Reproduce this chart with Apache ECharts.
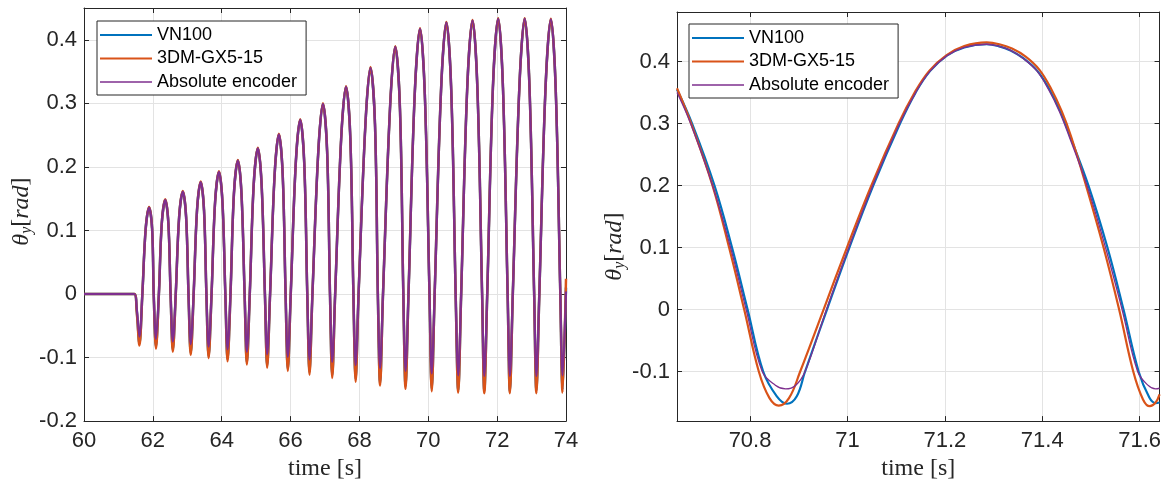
<!DOCTYPE html>
<html><head><meta charset="utf-8">
<script src="https://cdn.jsdelivr.net/npm/echarts@6/dist/echarts.min.js"></script>
<style>html,body{margin:0;padding:0;background:#fff}#c{width:1164px;height:486px}</style>
</head><body><div id="c"></div>
<script>
// ---------- DATA ----------
const seriesNames = ['VN100', '3DM-GX5-15', 'Absolute encoder'];
const leftXTicks = [60, 62, 64, 66, 68, 70, 72, 74];
const leftYTicks = [-0.2, -0.1, 0, 0.1, 0.2, 0.3, 0.4];
const rightXTicks = [70.8, 71, 71.2, 71.4, 71.6];
const rightYTicks = [-0.1, 0, 0.1, 0.2, 0.3, 0.4];

// left panel: time [s]
const leftTime = [
  60, 61.46, 61.53,
  61.61, 61.695, 61.791, 61.89, 61.979, 62.025,
  62.09, 62.175, 62.259, 62.36, 62.451, 62.515,
  62.58, 62.665, 62.763, 62.87, 62.966, 63.035,
  63.10, 63.185, 63.283, 63.39, 63.486, 63.555,
  63.62, 63.705, 63.807, 63.92, 64.022, 64.105,
  64.17, 64.255, 64.355, 64.47, 64.574, 64.665,
  64.73, 64.815, 64.929, 65.05, 65.159, 65.255,
  65.32, 65.405, 65.537, 65.66, 65.771, 65.855,
  65.92, 66.005, 66.151, 66.28, 66.397, 66.485,
  66.55, 66.635, 66.805, 66.94, 67.062, 67.145,
  67.21, 67.295, 67.470, 67.61, 67.736, 67.825,
  67.89, 67.975, 68.174, 68.32, 68.452, 68.535,
  68.60, 68.685, 68.888, 69.04, 69.177, 69.275,
  69.34, 69.425, 69.605, 69.76, 69.900, 70.035,
  70.10, 70.185, 70.370, 70.525, 70.667, 70.795,
  70.87, 70.955, 71.130, 71.285, 71.427, 71.563,
  71.627, 71.712, 71.877, 72.03, 72.169, 72.305,
  72.37, 72.455, 72.645, 72.80, 72.940, 73.075,
  73.14, 73.225, 73.405, 73.56, 73.700, 73.835,
  73.90, 74.0
];
const leftVN100 = [
  0, 0, -0.025,
  -0.078, 0, 0.102, 0.136, 0.102, 0,
  -0.083, 0, 0.111, 0.148, 0.111, 0,
  -0.088, 0, 0.121, 0.161, 0.121, 0,
  -0.093, 0, 0.132, 0.176, 0.132, 0,
  -0.098, 0, 0.144, 0.192, 0.144, 0,
  -0.103, 0, 0.158, 0.210, 0.158, 0,
  -0.108, 0, 0.172, 0.229, 0.172, 0,
  -0.113, 0, 0.188, 0.251, 0.188, 0,
  -0.118, 0, 0.206, 0.274, 0.206, 0,
  -0.123, 0, 0.224, 0.299, 0.224, 0,
  -0.128, 0, 0.245, 0.326, 0.245, 0,
  -0.134, 0, 0.267, 0.356, 0.267, 0,
  -0.140, 0, 0.292, 0.389, 0.292, 0,
  -0.145, 0, 0.313, 0.417, 0.313, 0,
  -0.149, 0, 0.320, 0.427, 0.320, 0,
  -0.152, 0, 0.323, 0.430, 0.323, 0,
  -0.152, 0, 0.325, 0.433, 0.325, 0,
  -0.153, 0, 0.325, 0.433, 0.325, 0,
  -0.152, 0, 0.324, 0.432, 0.324, 0,
  -0.151, 0.010
];
const leftGX5 = [
  0, 0, -0.027,
  -0.081, 0, 0.102, 0.137, 0.102, 0,
  -0.086, 0, 0.111, 0.149, 0.111, 0,
  -0.091, 0, 0.121, 0.162, 0.121, 0,
  -0.096, 0, 0.132, 0.177, 0.132, 0,
  -0.101, 0, 0.144, 0.193, 0.144, 0,
  -0.106, 0, 0.158, 0.211, 0.158, 0,
  -0.111, 0, 0.172, 0.230, 0.172, 0,
  -0.116, 0, 0.188, 0.252, 0.188, 0,
  -0.121, 0, 0.206, 0.275, 0.206, 0,
  -0.127, 0, 0.224, 0.300, 0.224, 0,
  -0.132, 0, 0.245, 0.327, 0.245, 0,
  -0.138, 0, 0.267, 0.357, 0.267, 0,
  -0.144, 0, 0.292, 0.390, 0.292, 0,
  -0.149, 0, 0.313, 0.418, 0.313, 0,
  -0.153, 0, 0.320, 0.428, 0.320, 0,
  -0.155, 0, 0.323, 0.431, 0.323, 0,
  -0.156, 0, 0.325, 0.434, 0.325, 0,
  -0.156, 0, 0.325, 0.434, 0.325, 0,
  -0.156, 0, 0.324, 0.433, 0.324, 0,
  -0.155, 0.024
];
const leftEncoder = [
  0, 0, -0.022,
  -0.067, 0, 0.102, 0.136, 0.102, 0,
  -0.071, 0, 0.111, 0.148, 0.111, 0,
  -0.075, 0, 0.121, 0.161, 0.121, 0,
  -0.079, 0, 0.132, 0.176, 0.132, 0,
  -0.083, 0, 0.144, 0.192, 0.144, 0,
  -0.087, 0, 0.158, 0.210, 0.158, 0,
  -0.091, 0, 0.172, 0.229, 0.172, 0,
  -0.095, 0, 0.188, 0.251, 0.188, 0,
  -0.099, 0, 0.206, 0.274, 0.206, 0,
  -0.103, 0, 0.224, 0.299, 0.224, 0,
  -0.107, 0, 0.245, 0.326, 0.245, 0,
  -0.112, 0, 0.267, 0.356, 0.267, 0,
  -0.117, 0, 0.292, 0.389, 0.292, 0,
  -0.121, 0, 0.313, 0.417, 0.313, 0,
  -0.125, 0, 0.320, 0.427, 0.320, 0,
  -0.128, 0, 0.323, 0.430, 0.323, 0,
  -0.129, 0, 0.325, 0.433, 0.325, 0,
  -0.129, 0, 0.325, 0.433, 0.325, 0,
  -0.129, 0, 0.324, 0.432, 0.324, 0,
  -0.128, 0.004
];

// right panel (zoom on one cycle)
const rightTimeVN100 = [70.65, 70.681, 70.727, 70.763, 70.795, 70.827, 70.855, 70.876, 70.896, 70.913, 70.958, 71.004, 71.053, 71.108, 71.140, 71.170, 71.205, 71.240, 71.286, 71.310, 71.335, 71.362, 71.390, 71.415, 71.437, 71.457, 71.495, 71.534, 71.567, 71.598, 71.620, 71.633, 71.641];
const rightVN100     = [0.355, 0.3, 0.2, 0.1, 0, -0.1, -0.140, -0.152, -0.140, -0.1, 0, 0.1, 0.2, 0.3, 0.35, 0.385, 0.41, 0.423, 0.428, 0.425, 0.418, 0.405, 0.385, 0.355, 0.32, 0.28, 0.2, 0.1, 0, -0.1, -0.142, -0.151, -0.150];
const rightTimeGX5 = [70.65, 70.679, 70.723, 70.757, 70.788, 70.818, 70.840, 70.859, 70.880, 70.903, 70.951, 70.999, 71.049, 71.105, 71.138, 71.168, 71.203, 71.240, 71.286, 71.312, 71.338, 71.366, 71.394, 71.419, 71.440, 71.459, 71.490, 71.526, 71.558, 71.587, 71.607, 71.621, 71.633, 71.641];
const rightGX5     = [0.357, 0.3, 0.2, 0.1, 0, -0.1, -0.143, -0.155, -0.143, -0.1, 0, 0.1, 0.2, 0.3, 0.35, 0.385, 0.41, 0.425, 0.431, 0.428, 0.421, 0.408, 0.387, 0.355, 0.32, 0.28, 0.2, 0.1, 0, -0.1, -0.145, -0.156, -0.150, -0.137];
const rightTimeEncoder = [70.65, 70.678, 70.723, 70.760, 70.792, 70.825, 70.852, 70.873, 70.894, 70.913, 70.957, 71.003, 71.052, 71.107, 71.140, 71.170, 71.205, 71.240, 71.286, 71.310, 71.335, 71.361, 71.389, 71.413, 71.435, 71.455, 71.492, 71.530, 71.564, 71.596, 71.617, 71.633, 71.641];
const rightEncoder     = [0.350, 0.3, 0.2, 0.1, 0, -0.1, -0.122, -0.128, -0.122, -0.1, 0, 0.1, 0.2, 0.3, 0.35, 0.385, 0.41, 0.423, 0.428, 0.425, 0.418, 0.405, 0.385, 0.355, 0.32, 0.28, 0.2, 0.1, 0, -0.1, -0.122, -0.128, -0.127];

// ---------- CHART ----------
const colors = ['#0072BD', '#D95319', '#7E2F8E'];
const leftWidths = [2.5, 2.5, 2.2];
const rightWidths = [2.2, 2.2, 1.3];
const axisCol = '#262626';
const gridCol = '#e3e3e3';
const pairs = (t, v) => t.map((x, i) => [x, v[i]]);
const fmt = ticks => v => ticks.some(t => Math.abs(t - v) < 1e-6) ? String(+v.toFixed(2)) : '';

function xAx(grid, min, max, ticks, opts, top) {
  return Object.assign({
    type: 'value', gridIndex: grid, min: min, max: max, position: top ? 'top' : 'bottom',
    axisLine: { show: true, onZero: false, lineStyle: { color: axisCol, width: 1 } },
    axisTick: { show: true, inside: true, length: 5, lineStyle: { color: axisCol } },
    axisLabel: top ? { show: false } : { show: true, color: axisCol, fontFamily: 'Liberation Sans', fontSize: 22, margin: 9, formatter: fmt(ticks) },
    splitLine: { show: !top, lineStyle: { color: gridCol, width: 1 } }
  }, opts);
}
function yAx(grid, min, max, ticks, opts, right) {
  return Object.assign({
    type: 'value', gridIndex: grid, min: min, max: max, position: right ? 'right' : 'left',
    axisLine: { show: true, onZero: false, lineStyle: { color: axisCol, width: 1 } },
    axisTick: { show: true, inside: true, length: 5, lineStyle: { color: axisCol } },
    axisLabel: right ? { show: false } : { show: true, color: axisCol, fontFamily: 'Liberation Sans', fontSize: 22, margin: 7, formatter: fmt(ticks) },
    splitLine: { show: !right, lineStyle: { color: gridCol, width: 1 } }
  }, opts);
}
const xName = {
  name: 'time [s]', nameLocation: 'middle', nameGap: 26,
  nameTextStyle: { fontFamily: 'Liberation Serif', fontSize: 24, color: axisCol }
};
function yName(shift) {
  return {
    name: '{i|θ}{s|y}{r|[}{i|rad}{r|]}', nameLocation: 'middle', nameGap: 46,
    nameTextStyle: {
      color: axisCol,
      padding: shift > 0 ? [0, shift, 0, 0] : [0, 0, 0, -shift],
      rich: {
        i: { fontFamily: 'Liberation Serif', fontStyle: 'italic', fontSize: 24, lineHeight: 28, verticalAlign: 'middle', color: axisCol },
        s: { fontFamily: 'Liberation Serif', fontStyle: 'italic', fontSize: 16, lineHeight: 15, verticalAlign: 'bottom', color: axisCol },
        r: { fontFamily: 'Liberation Serif', fontSize: 24, lineHeight: 28, verticalAlign: 'middle', color: axisCol }
      }
    }
  };
}

const leftSets = [leftVN100, leftGX5, leftEncoder];
const rightSets = [[rightTimeVN100, rightVN100], [rightTimeGX5, rightGX5], [rightTimeEncoder, rightEncoder]];
const series = [];
seriesNames.forEach((n, i) => {
  series.push({ name: n, type: 'line', xAxisIndex: 0, yAxisIndex: 0, data: pairs(leftTime, leftSets[i]),
    smooth: 0.35, symbol: 'none', showSymbol: false, lineStyle: { color: colors[i], width: leftWidths[i] }, itemStyle: { color: colors[i] }, z: 2 + i });
});
seriesNames.forEach((n, i) => {
  series.push({ name: n, type: 'line', xAxisIndex: 2, yAxisIndex: 2, data: pairs(rightSets[i][0], rightSets[i][1]),
    smooth: 0.4, symbol: 'none', showSymbol: false, lineStyle: { color: colors[i], width: rightWidths[i] }, itemStyle: { color: colors[i] }, z: 2 + i });
});

const legendData = seriesNames.map((n, i) => ({ name: n, icon: 'path://M0,0H52V' + rightWidths[i] + 'H0Z' }));
const legendBase = {
  orient: 'vertical', data: legendData, backgroundColor: '#fff', borderColor: axisCol, borderWidth: 1,
  padding: [5, 9, 4, 3], itemWidth: 52, itemHeight: 20, itemGap: 5.5, selectedMode: false,
  textStyle: { fontFamily: 'Liberation Sans', fontSize: 18, color: '#000' }
};

const chart = echarts.init(document.getElementById('c'), null, { renderer: 'canvas' });
chart.setOption({
  animation: false,
  backgroundColor: '#fff',
  grid: [
    { left: 84, right: 598, top: 8, bottom: 64 },
    { left: 677, right: 1, top: 12, bottom: 63 }
  ],
  xAxis: [
    xAx(0, 60, 74, leftXTicks, Object.assign({ interval: 2 }, xName)),
    xAx(0, 60, 74, leftXTicks, { interval: 2 }, true),
    xAx(1, 70.65, 71.641, rightXTicks, Object.assign({ splitNumber: 5 }, xName)),
    xAx(1, 70.65, 71.641, rightXTicks, { splitNumber: 5 }, true)
  ],
  yAxis: [
    yAx(0, -0.2, 0.45, leftYTicks, Object.assign({ interval: 0.1 }, yName(-6))),
    yAx(0, -0.2, 0.45, leftYTicks, { interval: 0.1 }, true),
    yAx(1, -0.18, 0.48, rightYTicks, Object.assign({ splitNumber: 6 }, yName(60))),
    yAx(1, -0.18, 0.48, rightYTicks, { splitNumber: 6 }, true)
  ],
  legend: [
    Object.assign({ left: 97, top: 21 }, legendBase),
    Object.assign({ left: 689, top: 24 }, legendBase)
  ],
  series: series
});
</script></body></html>
